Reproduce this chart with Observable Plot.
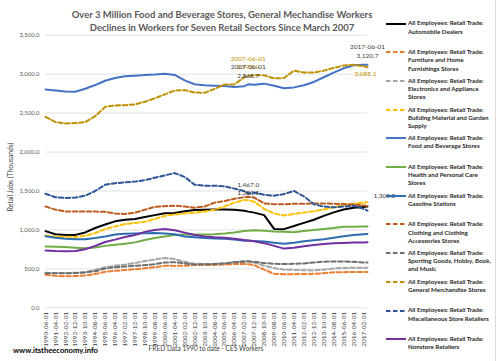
<!DOCTYPE html>
<html><head><meta charset="utf-8">
<script src="https://cdn.jsdelivr.net/npm/d3@7"></script>
<script src="https://cdn.jsdelivr.net/npm/@observablehq/plot@0.6"></script>
<style>
body{margin:0;background:#fff;}
#wrap{position:relative;width:498px;height:361px;overflow:hidden;background:#fff;font-family:Lato,"Open Sans",sans-serif;}
#wrap .abs{position:absolute;white-space:nowrap;}
#frame{position:absolute;left:495px;top:0;width:1px;height:361px;background:#D9D9D9;}
</style></head><body><div id="wrap"><div id="frame"></div></div>
<script>
// ---------- DATA ----------
const titleLines = ["Over 3 Million Food and Beverage Stores, General Mechandise Workers",
                    "Declines in Workers for Seven Retail Sectors Since March 2007"];
const yTitle = "Retail Jobs (Thousands)";
const xTitle = "FRED Data 1990 to date - CES Workers";
const source = "www.itstheeconomy.info";
const legendPrefix = "All Employees: Retail Trade:";

const tickDates = ["1990-06-01","1991-04-01","1992-02-01","1992-12-01","1993-10-01","1994-08-01","1995-06-01",
 "1996-04-01","1997-02-01","1997-12-01","1998-10-01","1999-08-01","2000-06-01","2001-04-01","2002-02-01",
 "2002-12-01","2003-10-01","2004-08-01","2005-06-01","2006-04-01","2007-02-01","2007-12-01","2008-10-01",
 "2009-08-01","2010-06-01","2011-04-01","2012-02-01","2012-12-01","2013-10-01","2014-08-01","2015-06-01",
 "2016-04-01","2017-02-01"];
const dates = ["1990-06-01","1991-04-01","1992-02-01","1992-12-01","1993-10-01","1994-08-01","1995-06-01",
 "1996-04-01","1997-02-01","1997-12-01","1998-10-01","1999-08-01","2000-06-01","2001-04-01","2002-02-01",
 "2002-12-01","2003-10-01","2004-08-01","2005-06-01","2006-04-01","2007-02-01","2007-06-01","2007-12-01","2008-10-01",
 "2009-08-01","2010-06-01","2011-04-01","2012-02-01","2012-12-01","2013-10-01","2014-08-01","2015-06-01",
 "2016-04-01","2017-02-01","2017-06-01"];
const yTicks = [0,500,1000,1500,2000,2500,3000,3500];

const seriesNames = ["Automobile Dealers","Furniture and Home Furnishings Stores","Electronics and Appliance Stores",
 "Building Material and Garden Supply","Food and Beverage Stores","Health and Personal Care Stores","Gasoline Stations",
 "Clothing and Clothing Accessories Stores","Sporting Goods, Hobby, Book, and Music","General Merchandise Stores",
 "Miscellaneous Store Retailers","Nonstore Retailers"];
const legendWraps = [["Automobile Dealers"],["Furniture and Home","Furnishings Stores"],["Electronics and Appliance","Stores"],
 ["Building Material and Garden","Supply"],["Food and Beverage Stores"],["Health and Personal Care","Stores"],["Gasoline Stations"],
 ["Clothing and Clothing","Accessories Stores"],["Sporting Goods, Hobby, Book,","and Music"],["General Merchandise Stores"],
 ["Miscellaneous Store Retailers"],["Nonstore Retailers"]];

const auto = [985,945,936,936,968,1025,1070,1110,1130,1140,1165,1190,1215,1218,1240,1255,1258,1262,1262,1258,1245,1235,1222,1190,1013,1010,1050,1090,1130,1180,1225,1262,1285,1295,1299];
const furniture = [423,410,405,408,414,435,462,475,485,495,508,520,540,538,540,548,550,551,555,562,562,560,548,490,436,432,432,434,436,445,455,458,460,461,461];
const electronics = [449,447,447,449,458,485,520,540,555,575,600,620,640,625,590,565,562,563,570,585,602,600,580,540,510,490,487,482,480,490,505,512,513,513,513];
const building = [927,915,912,910,925,960,1010,1045,1075,1090,1105,1140,1180,1198,1210,1222,1235,1260,1300,1350,1385,1380.5,1362,1270,1210,1185,1205,1222,1240,1262,1290,1320,1335,1350,1354];
const food = [2804,2790,2778,2775,2812,2860,2915,2950,2972,2980,2990,2995,3005,2990,2920,2870,2858,2852,2848,2835,2845,2868.7,2865,2878,2850,2820,2830,2858,2900,2960,3020,3075,3115,3120,3120.7];
const health = [786,784,780,772,765,775,795,810,822,840,870,895,915,935,940,940,942,945,955,968,985,990,995,990,980,975,970,985,1000,1012,1025,1040,1042,1045,1045];
const gasoline = [918,900,888,880,880,895,915,940,952,955,958,960,955,945,915,905,895,890,885,876,862,860,858,850,835,822,835,855,868,880,900,920,935,945,949];
const clothing = [1300,1260,1238,1238,1238,1236,1232,1210,1205,1220,1260,1295,1305,1311,1300,1285,1300,1350,1370,1400,1420,1425,1415,1340,1330,1330,1335,1335,1340,1340,1335,1333,1325,1315,1305.2];
const sporting = [445,444,444,446,455,470,505,520,530,540,548,560,582,585,570,555,558,562,570,585,592,594,592,575,565,563,564,570,582,592,594,594,590,583,581];
const general = [2452,2385,2367,2372,2385,2460,2580,2598,2600,2612,2645,2690,2740,2790,2795,2765,2760,2810,2866,2868,2960,2978,2985,2985,2945,2950,3045,3020,3020,3045,3080,3110,3120,3100,3088.1];
const misc = [1465,1420,1410,1415,1440,1500,1580,1600,1610,1620,1640,1670,1700,1730,1680,1580,1568,1568,1560,1530,1500,1467,1480,1450,1440,1460,1500,1430,1330,1300,1290,1300,1310,1270,1247];
const nonstore = [735,728,726,730,752,795,845,875,910,935,975,1000,1012,995,965,935,915,905,898,888,870,865,855,830,795,760,770,790,805,820,828,832,838,840,841];

// ---------- STYLE ----------
const seriesValues = [auto,furniture,electronics,building,food,health,gasoline,clothing,sporting,general,misc,nonstore];
const colors = ["#000000","#ED7D31","#A5A5A5","#FFC000","#4472C4","#70AD47","#2E6DAF","#BE5B1E","#6E6E6E","#BF9000","#2F5597","#7030A0"];
const dashedS = [false,true,true,true,false,false,false,true,true,true,true,false];
const DASH = "4.5,2.5";
const family = 'Lato, "Open Sans", sans-serif';

const ctx = document.createElement("canvas").getContext("2d");
function fit(text, weight, target) {
  ctx.font = `${weight} 100px ${family}`;
  return 100 * target / ctx.measureText(text).width;
}
const parse = d3.utcParse("%Y-%m-%d");
const fmt = d3.format(",.1f");

const rows = seriesNames.flatMap((s, k) => dates.map((d, i) => ({series: s, k, date: parse(d), value: seriesValues[k][i]})));

const ySize = fit("3,500.0", "normal", 20);
const xSize = fit("1990-06-01", "normal", 35);
const lblSize = fit("2007-06-01", "normal", 35);

function pt(k, d) { return rows.find(r => r.k === k && +r.date === +parse(d)); }
const dark = "#404040", gold = "#BF9000";
const labelSpecs = [
  {k:9, d:"2007-06-01", t:"date", dy:-17, fill:gold},
  {k:9, d:"2007-06-01", t:"val", dy:-8.5, fill:gold},
  {k:4, d:"2007-06-01", t:"date", dy:-17, fill:dark},
  {k:4, d:"2007-06-01", t:"val", dy:-8.5, fill:dark},
  {k:10, d:"2007-06-01", t:"val", dy:-9, fill:dark},
  {k:3, d:"2007-06-01", t:"val", dy:-7, fill:dark},
  {k:4, d:"2017-06-01", t:"date", dy:-17.5, fill:dark},
  {k:4, d:"2017-06-01", t:"val", dy:-8.5, fill:dark},
  {k:9, d:"2017-06-01", t:"val", dy:7, dx:-2, fill:gold},
  {k:7, d:"2017-06-01", t:"val", dy:-10, dx:6, fill:dark, anchor:"start"}
];

const marks = [
  Plot.ruleY(yTicks, {stroke:"#D9D9D9", strokeWidth:0.8}),
  Plot.axisY(yTicks, {tickSize:0, tickPadding:6, tickFormat:fmt, fontSize:ySize, fill:"#595959", label:null}),
  Plot.axisX(tickDates.map(parse), {tickSize:0, tickPadding:4, tickRotate:-90, tickFormat:d3.utcFormat("%Y-%m-%d"), fontSize:xSize, fill:"#404040", label:null})
];
seriesNames.forEach((s, k) => {
  marks.push(Plot.line(rows.filter(r => r.k === k), {x:"date", y:"value", stroke:colors[k], strokeWidth:2,
    strokeDasharray: dashedS[k] ? DASH : null, strokeLinejoin:"round"}));
});
labelSpecs.forEach(L => {
  const p = pt(L.k, L.d);
  marks.push(Plot.text([p], {x:"date", y:"value", text: r => L.t === "date" ? L.d : fmt(r.value),
    dy:L.dy, dx:L.dx || 0, fill:L.fill, fontSize:lblSize, textAnchor:L.anchor || "middle"}));
});

const chart = Plot.plot({
  width: 386, height: 361,
  marginLeft: 45, marginRight: 19, marginTop: 34.7, marginBottom: 53.7,
  x: {type:"utc", domain:[parse("1990-06-01"), parse("2017-06-01")]},
  y: {domain:[0,3500]},
  style: {fontFamily: family, background:"transparent", overflow:"visible"},
  marks
});
const wrap = document.getElementById("wrap");
chart.style.position = "absolute"; chart.style.left = "0px"; chart.style.top = "0px";
wrap.appendChild(chart);

function addText(txt, opts) {
  const el = document.createElement("div");
  el.className = "abs";
  el.textContent = txt;
  Object.assign(el.style, opts);
  wrap.appendChild(el);
  return el;
}
// Title
const tSize = fit(titleLines[0], "bold", 301);
titleLines.forEach((line, i) => {
  addText(line, {left:"222px", top:(15 + i*12.5) + "px", transform:"translate(-50%,-50%)", fontSize:tSize+"px",
    fontWeight:"bold", color:"#595959", lineHeight:"1"});
});
// y title
addText(yTitle, {left:"10px", top:"177px", transform:"translate(-50%,-50%) rotate(-90deg)",
  fontSize: fit(yTitle, "normal", 69) + "px", color:"#404040", lineHeight:"1"});
// x title
addText(xTitle, {left:"206px", top:"349px", transform:"translate(-50%,-50%)",
  fontSize: fit(xTitle, "normal", 115) + "px", color:"#404040", lineHeight:"1"});
// source
addText(source, {left:"13px", top:"351px", transform:"translate(0,-50%)",
  fontSize: fit(source, "bold", 85) + "px", fontWeight:"bold", color:"#000", lineHeight:"1"});

// Legend
const legSize = fit(legendPrefix, "bold", 76);
seriesNames.forEach((s, k) => {
  const y = 23.5 + k * 28.7;
  const svg = d3.create("svg").attr("width", 22).attr("height", 6)
    .style("position","absolute").style("left","386px").style("top", (y - 3) + "px");
  svg.append("line").attr("x1",0).attr("x2",20).attr("y1",3).attr("y2",3)
    .attr("stroke", colors[k]).attr("stroke-width", 2).attr("stroke-dasharray", dashedS[k] ? DASH : null);
  wrap.appendChild(svg.node());
  const el = document.createElement("div");
  el.className = "abs";
  Object.assign(el.style, {left:"408px", top:(y - 4.1) + "px", fontSize: legSize + "px", fontWeight:"bold",
    color:"#262626", lineHeight:"8.2px"});
  el.innerHTML = [legendPrefix, ...legendWraps[k]].map(t => `<div>${t}</div>`).join("");
  wrap.appendChild(el);
});
</script>
</body></html>
